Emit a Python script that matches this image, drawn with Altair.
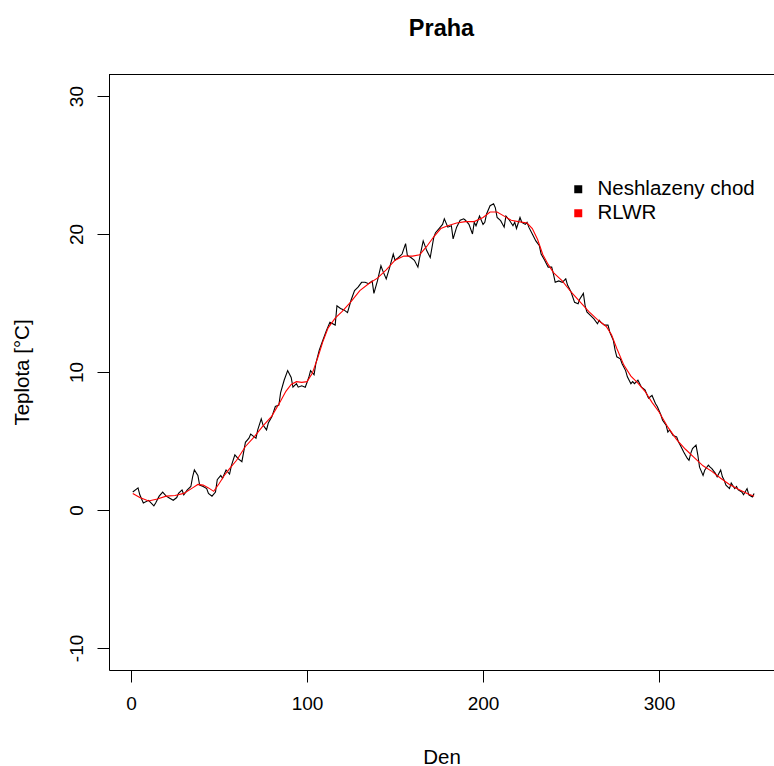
import altair as alt
import pandas as pd

# Daily temperature, Praha
raw_day = [1, 4, 5, 7, 10, 13, 14, 16, 18, 20, 22, 24, 26, 27, 29, 30, 32, 34, 35, 36, 38, 39, 41, 43, 44, 46, 48, 49, 51, 52, 54, 56, 57, 59, 61, 63, 65, 67, 68, 70, 71, 72, 74, 75, 77, 78, 80, 82, 84, 85, 87, 89, 91, 92, 94, 95, 97, 99, 101, 102, 104, 105, 107, 109, 111, 113, 116, 117, 119, 121, 123, 125, 127, 129, 131, 133, 135, 137, 138, 140, 142, 143, 145, 147, 149, 150, 152, 154, 156, 157, 159, 161, 163, 164, 166, 168, 170, 172, 173, 175, 177, 178, 180, 182, 183, 185, 187, 189, 190, 192, 194, 195, 196, 198, 200, 201, 202, 204, 206, 207, 208, 210, 212, 213, 215, 217, 218, 219, 221, 222, 224, 225, 226, 228, 230, 232, 233, 235, 237, 239, 240, 241, 243, 245, 247, 248, 250, 252, 254, 255, 257, 258, 259, 261, 263, 265, 266, 267, 269, 271, 272, 274, 275, 276, 278, 279, 281, 282, 284, 285, 286, 288, 290, 292, 294, 296, 298, 299, 301, 302, 304, 305, 306, 308, 310, 311, 312, 314, 316, 317, 318, 319, 321, 322, 323, 325, 326, 328, 329, 330, 332, 333, 335, 336, 337, 338, 340, 341, 343, 344, 345, 347, 348, 350, 351, 353, 354]
raw_temp = [1.3, 1.6, 1.1, 0.5, 0.7, 0.3, 0.5, 1.0, 1.3, 1.0, 0.85, 0.7, 0.9, 1.2, 1.45, 1.1, 1.45, 1.7, 2.4, 2.9, 2.5, 1.8, 1.7, 1.55, 1.2, 1.0, 1.3, 2.2, 2.5, 2.3, 2.9, 2.6, 3.2, 4.0, 3.7, 3.5, 4.9, 5.2, 5.5, 5.3, 5.2, 5.8, 6.6, 6.15, 5.8, 6.3, 6.75, 7.5, 7.6, 8.5, 9.4, 10.1, 9.6, 8.9, 9.15, 8.9, 9.0, 8.9, 9.6, 10.1, 9.8, 10.6, 11.6, 12.3, 13.0, 13.6, 13.4, 14.8, 14.6, 14.5, 14.3, 15.2, 15.9, 16.15, 16.5, 16.5, 16.4, 16.6, 15.7, 16.6, 17.7, 17.35, 16.75, 17.6, 18.55, 18.1, 18.3, 18.55, 19.3, 18.45, 18.3, 18.1, 17.6, 18.3, 19.5, 18.8, 18.3, 19.75, 20.1, 20.4, 20.7, 21.1, 20.5, 20.6, 19.65, 20.5, 21.0, 21.1, 21.0, 20.7, 20.0, 20.85, 20.6, 21.3, 20.7, 20.85, 21.45, 22.05, 22.2, 21.9, 21.2, 20.97, 20.5, 21.3, 21.0, 20.6, 20.85, 20.4, 21.2, 20.85, 20.7, 20.85, 20.5, 20.0, 19.5, 19.15, 18.55, 18.1, 17.6, 17.6, 17.1, 16.5, 16.6, 16.5, 16.75, 16.3, 15.8, 15.05, 14.95, 15.3, 15.7, 14.8, 14.35, 14.1, 13.85, 13.5, 13.75, 13.6, 13.4, 13.4, 12.9, 12.3, 11.6, 11.1, 10.95, 10.6, 10.1, 9.65, 9.15, 9.3, 9.15, 9.4, 8.9, 8.7, 8.1, 8.3, 7.7, 7.5, 6.9, 6.5, 6.15, 5.65, 5.8, 5.4, 5.3, 4.95, 4.7, 4.2, 3.75, 3.6, 4.1, 4.45, 4.7, 4.0, 3.1, 2.5, 2.9, 3.25, 3.1, 3.0, 2.65, 2.4, 2.9, 2.4, 2.15, 1.8, 1.55, 1.95, 1.55, 1.7, 1.45, 1.3, 1.1, 1.55, 1.1, 0.95, 1.2]

# RLWR smoothed course
rlwr_day = [1, 5, 10, 15, 20, 25, 30, 35, 38, 41, 44, 47, 50, 53, 56, 60, 65, 70, 75, 80, 85, 88, 91, 94, 97, 100, 103, 106, 109, 112, 116, 120, 125, 130, 135, 140, 145, 150, 155, 160, 164, 168, 172, 176, 180, 185, 190, 195, 200, 204, 208, 212, 216, 220, 225, 228, 231, 234, 237, 240, 245, 250, 255, 260, 265, 270, 273, 276, 280, 284, 288, 292, 296, 300, 305, 310, 315, 320, 325, 330, 335, 340, 345, 350, 354]
rlwr_temp = [1.2, 0.9, 0.65, 0.8, 1.0, 1.05, 1.2, 1.6, 1.85, 1.8, 1.6, 1.35, 1.9, 2.5, 3.0, 3.6, 4.6, 5.3, 6.1, 6.8, 7.9, 8.6, 9.1, 9.3, 9.25, 9.3, 9.9, 11.0, 12.2, 13.2, 13.9, 14.4, 15.1, 15.9, 16.4, 16.8, 17.4, 18.1, 18.4, 18.4, 18.5, 19.1, 19.8, 20.4, 20.6, 20.8, 20.9, 20.9, 21.2, 21.6, 21.6, 21.3, 21.0, 20.9, 20.8, 20.4, 19.6, 18.5, 17.8, 17.2, 16.6, 15.8, 15.1, 14.4, 13.8, 13.3, 12.7, 11.7, 10.5, 9.7, 9.2, 8.6, 7.8, 7.1, 6.0, 5.1, 4.4, 3.8, 3.2, 2.8, 2.3, 1.85, 1.5, 1.2, 1.0]

series_names = ["Neshlazeny chod", "RLWR"]
series_colors = ["#000000", "#FF0000"]
x_ticks = [0, 100, 200, 300]
y_ticks = [-10, 0, 10, 20, 30]

df = pd.concat([
    pd.DataFrame({"Den": raw_day, "Teplota": raw_temp, "serie": series_names[0], "poradi": 0}),
    pd.DataFrame({"Den": rlwr_day, "Teplota": rlwr_temp, "serie": series_names[1], "poradi": 1}),
], ignore_index=True)

FONT = "Liberation Sans"
W, H = 665, 596

lines = alt.Chart(df).mark_line(strokeWidth=1.1, clip=True).encode(
    x=alt.X("Den:Q", scale=alt.Scale(domain=[-12.5, 365.3], nice=False, zero=False),
            axis=alt.Axis(values=x_ticks, title="Den", grid=False, tickSize=12,
                          labelPadding=12, labelFontSize=19, titleFontSize=20.5,
                          titleFontWeight="normal", titleY=87, titleBaseline="middle",
                          labelFont=FONT, titleFont=FONT, domainColor="black",
                          tickColor="black", labelColor="black", titleColor="black")),
    y=alt.Y("Teplota:Q", scale=alt.Scale(domain=[-11.6, 31.6], nice=False, zero=False),
            axis=alt.Axis(values=y_ticks, title="Teplota [°C]", grid=False, tickSize=12,
                          labelPadding=11, labelAngle=-90, labelAlign="center",
                          labelBaseline="bottom", labelFontSize=19, titleFontSize=20.5,
                          labelExpr="toString(datum.value)",
                          titleFontWeight="normal", titleX=-87, titleBaseline="middle",
                          labelFont=FONT, titleFont=FONT, domainColor="black",
                          tickColor="black", labelColor="black", titleColor="black")),
    color=alt.Color("serie:N", scale=alt.Scale(domain=series_names, range=series_colors),
                    legend=alt.Legend(title=None, orient="none", legendX=459, legendY=105,
                                      symbolType="square", symbolSize=16, symbolStrokeWidth=4,
                                      labelFontSize=20.5, labelFont=FONT, labelColor="black",
                                      labelOffset=9, rowPadding=3, padding=0)),
    order=alt.Order("poradi:Q"),
    detail="serie:N",
)

frame_top = alt.Chart(df).mark_rule(color="black", strokeWidth=1).encode(
    x=alt.value(0), x2=alt.value(W), y=alt.value(0.5)
)

chart = alt.layer(lines, frame_top).properties(
    width=W, height=H,
    title=alt.TitleParams("Praha", fontSize=23.5, font=FONT, fontWeight="bold",
                          anchor="middle", offset=34, color="black"),
    autosize=alt.AutoSizeParams(type="none"),
    padding={"left": 109, "top": 74, "right": 0, "bottom": 96},
).configure_view(stroke=None).configure(background="white")

chart.save("out.html", embed_options={"renderer": "svg", "actions": False})
